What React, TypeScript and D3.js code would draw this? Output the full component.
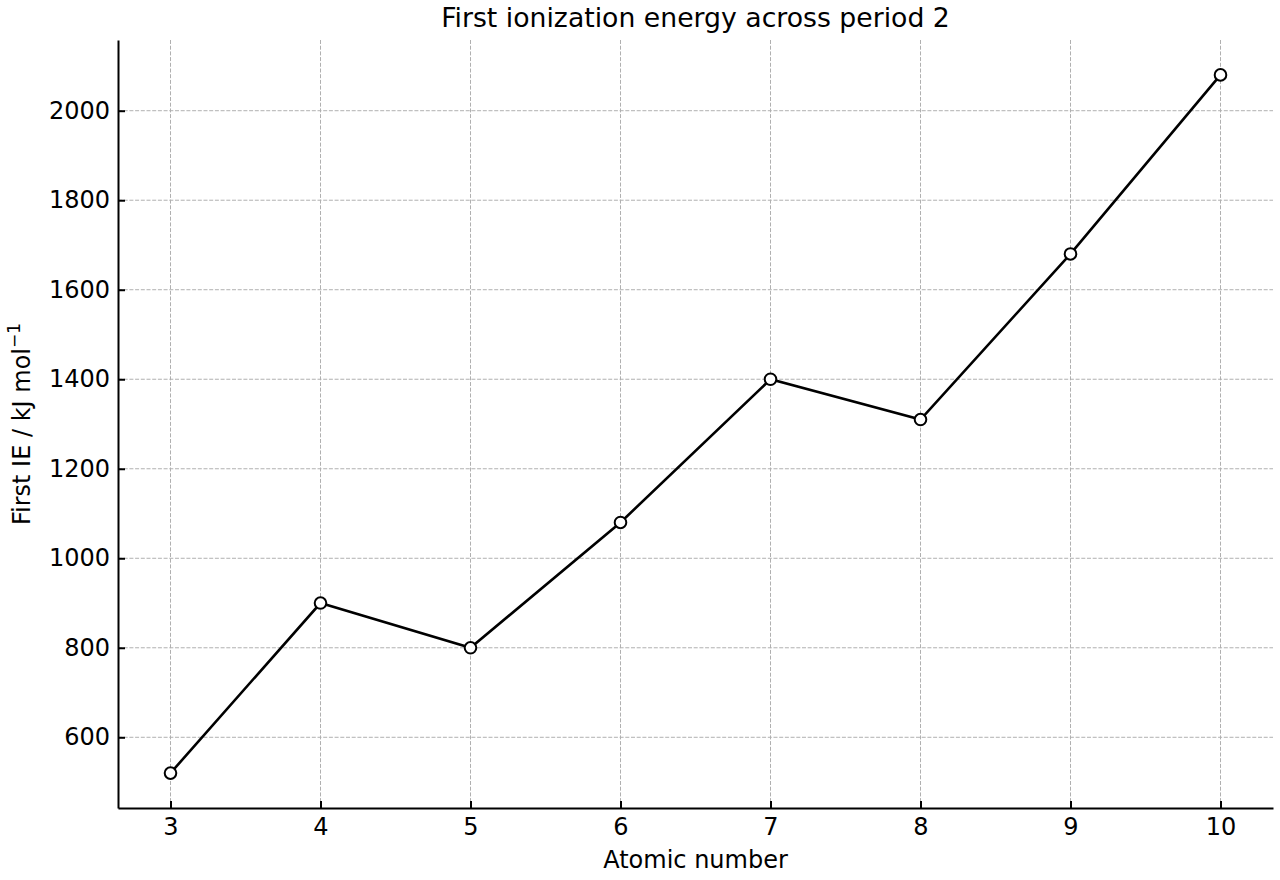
import { useEffect, useRef } from "react";
import * as d3 from "d3";

const atomicNumbers = [3, 4, 5, 6, 7, 8, 9, 10];
const ionizationEnergy = [520, 900, 800, 1080, 1400, 1310, 1680, 2080];
const yTicks = [600, 800, 1000, 1200, 1400, 1600, 1800, 2000];

export default function App() {
  const svgRef = useRef<SVGSVGElement | null>(null);

  useEffect(() => {
    if (!svgRef.current) return;
    document.body.style.margin = "0";

    const width = 1280;
    const height = 880;
    const margin = { top: 40, right: 7, bottom: 72, left: 118 };
    const innerW = width - margin.left - margin.right;
    const innerH = height - margin.top - margin.bottom;
    const font = "'DejaVu Sans', sans-serif";
    const fontSize = 24;

    const svg = d3.select(svgRef.current)
      .attr("width", width)
      .attr("height", height);
    svg.selectAll("*").remove();

    svg.append("rect").attr("width", width).attr("height", height).attr("fill", "#fff");

    const g = svg.append("g").attr("transform", `translate(${margin.left},${margin.top})`);

    const data = atomicNumbers.map((z, i) => ({ z, ie: ionizationEnergy[i] }));

    const xPad = (d3.max(atomicNumbers)! - d3.min(atomicNumbers)!) * 0.05;
    const x = d3.scaleLinear()
      .domain([d3.min(atomicNumbers)! - xPad, d3.max(atomicNumbers)! + xPad])
      .range([0, innerW]);

    const yPad = (d3.max(ionizationEnergy)! - d3.min(ionizationEnergy)!) * 0.05;
    const y = d3.scaleLinear()
      .domain([d3.min(ionizationEnergy)! - yPad, d3.max(ionizationEnergy)! + yPad])
      .range([innerH, 0]);

    // grid
    g.append("g")
      .selectAll("line")
      .data(atomicNumbers)
      .join("line")
      .attr("x1", d => x(d)).attr("x2", d => x(d))
      .attr("y1", 0).attr("y2", innerH)
      .attr("stroke", "#b0b0b0").attr("stroke-width", 1)
      .attr("stroke-dasharray", "4,1.7");
    g.append("g")
      .selectAll("line")
      .data(yTicks)
      .join("line")
      .attr("x1", 0).attr("x2", innerW)
      .attr("y1", d => y(d)).attr("y2", d => y(d))
      .attr("stroke", "#b0b0b0").attr("stroke-width", 1)
      .attr("stroke-dasharray", "4,1.7");

    // axes
    const xAxis = g.append("g")
      .attr("transform", `translate(0,${innerH})`)
      .call(d3.axisBottom(x).tickValues(atomicNumbers).tickFormat(d3.format("d")).tickSizeInner(-7).tickSizeOuter(0).tickPadding(10));
    const yAxis = g.append("g")
      .call(d3.axisLeft(y).tickValues(yTicks).tickFormat(d3.format("d")).tickSizeInner(-7).tickSizeOuter(0).tickPadding(8));

    [xAxis, yAxis].forEach(a => {
      a.select(".domain").attr("stroke", "#000").attr("stroke-width", 2);
      a.selectAll(".tick line").attr("stroke", "#000").attr("stroke-width", 2);
      a.selectAll("text").attr("fill", "#000").style("font-family", font).style("font-size", `${fontSize}px`);
    });

    // line
    const line = d3.line<{ z: number; ie: number }>()
      .x(d => x(d.z))
      .y(d => y(d.ie));

    g.append("path")
      .datum(data)
      .attr("fill", "none")
      .attr("stroke", "#000")
      .attr("stroke-width", 2.6)
      .attr("d", line);

    g.selectAll(".pt")
      .data(data)
      .join("circle")
      .attr("class", "pt")
      .attr("cx", d => x(d.z))
      .attr("cy", d => y(d.ie))
      .attr("r", 5.8)
      .attr("fill", "#fff")
      .attr("stroke", "#000")
      .attr("stroke-width", 2);

    // title & labels
    svg.append("text")
      .attr("x", margin.left + innerW / 2)
      .attr("y", 27)
      .attr("text-anchor", "middle")
      .style("font-family", font)
      .style("font-size", "26.7px")
      .text("First ionization energy across period 2");

    svg.append("text")
      .attr("x", margin.left + innerW / 2)
      .attr("y", 868)
      .attr("text-anchor", "middle")
      .style("font-family", font)
      .style("font-size", `${fontSize}px`)
      .text("Atomic number");

    const yl = svg.append("text")
      .attr("transform", `translate(30,${margin.top + innerH / 2}) rotate(-90)`)
      .attr("text-anchor", "middle")
      .style("font-family", font)
      .style("font-size", `${fontSize}px`);
    yl.append("tspan").text("First IE / kJ mol");
    yl.append("tspan").attr("dy", -10).style("font-size", "17px").text("−1");
  }, []);

  return <div><svg ref={svgRef}></svg></div>;
}
